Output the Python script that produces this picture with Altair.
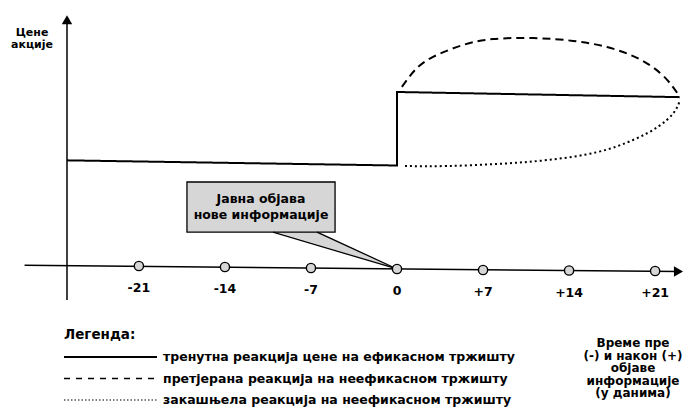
import altair as alt
import pandas as pd

# ---------------- data ----------------
series_names = [
    "тренутна реакција цене на ефикасном тржишту",
    "претјерана реакција на неефикасном тржишту",
    "закашњела реакција на неефикасном тржишту",
]
# days relative to announcement / price level (arbitrary units)
solid_days = [-26.85, 0.0, 0.0, 23.0]
solid_price = [42.5, 40.5, 69.0, 67.0]

dashed_days = [0.4, 1.46, 2.93, 5.37, 7.81, 11.07, 14.32, 17.09, 19.53, 21.4, 22.46, 22.95]
dashed_price = [71.0, 77.5, 82.6, 87.2, 89.5, 89.9, 88.8, 86.4, 82.2, 76.4, 70.9, 67.5]

dotted_days = [0.65, 4.07, 8.14, 12.2, 16.3, 19.2, 21.2, 22.5, 23.0]
dotted_price = [40.3, 40.3, 41.1, 42.6, 45.7, 50.4, 55.4, 60.9, 65.5]

tick_days = [-21, -14, -7, 0, 7, 14, 21]
tick_labels = ["-21", "-14", "-7", "0", "+7", "+14", "+21"]
# the scanned time axis is slightly tilted: its level at each tick
tick_level = [1.55, 1.16, 0.78, 0.39, 0.0, -0.19, -0.39]
axis_days = [-30.3, 22.9]
axis_level = [1.82, -0.58]

y_title_lines = ["Цене", "акције"]
x_title_lines = ["Време пре", "(-) и након (+)", "објаве", "информације", "(у данима)"]
callout_lines = ["Јавна објава", "нове информације"]
legend_title = "Легенда:"

# ---------------- layout / styles ----------------
W, H = 676, 399
X0, X1 = -31.65, 23.35
Y0, Y1 = -53.1, 101.55
FONT = "DejaVu Sans"
GRAY = "#d6d6d6"
LABEL_DROP = 8.7  # tick label distance below the axis, in price units

xs = alt.Scale(domain=[X0, X1], nice=False, zero=False)
ys = alt.Scale(domain=[Y0, Y1], nice=False, zero=False)


def XQ(f):
    return alt.X(f, type="quantitative", scale=xs, axis=None)


def YQ(f):
    return alt.Y(f, type="quantitative", scale=ys, axis=None)


dash_scale = alt.Scale(domain=series_names, range=[[1, 0], [8, 5], [2, 3]])

# main lines
solid_df = pd.DataFrame({"d": solid_days, "p": solid_price, "series": series_names[0]})
solid_df["i"] = range(len(solid_df))
curves_df = pd.concat([
    pd.DataFrame({"d": dashed_days, "p": dashed_price, "series": series_names[1]}),
    pd.DataFrame({"d": dotted_days, "p": dotted_price, "series": series_names[2]}),
], ignore_index=True)
curves_df["i"] = range(len(curves_df))

solid = alt.Chart(solid_df).mark_line(color="black", strokeWidth=2).encode(
    x=XQ("d"), y=YQ("p"), order="i:Q",
    strokeDash=alt.StrokeDash("series:N", scale=dash_scale, legend=None),
)
curves = alt.Chart(curves_df).mark_line(color="black", strokeWidth=2, interpolate="natural").encode(
    x=XQ("d"), y=YQ("p"), order="i:Q", detail="series:N",
    strokeDash=alt.StrokeDash("series:N", scale=dash_scale, legend=None),
)

# axes (drawn by hand)
AXIS_X = -26.85
haxis = alt.Chart(pd.DataFrame({"a": [axis_days[0]], "b": [axis_days[1]],
                                "c": [axis_level[0]], "e": [axis_level[1]]})).mark_rule(
    color="black", strokeWidth=1.5).encode(x=XQ("a"), x2="b", y=YQ("c"), y2="e")
vaxis = alt.Chart(pd.DataFrame({"d": [AXIS_X], "a": [-11.6], "b": [97.0]})).mark_rule(
    color="black", strokeWidth=1.5).encode(x=XQ("d"), y=YQ("a"), y2="b")
arrow_up = alt.Chart(pd.DataFrame({"d": [AXIS_X], "p": [97.0]})).mark_point(
    shape="triangle-up", filled=True, color="black", size=110, opacity=1).encode(x=XQ("d"), y=YQ("p"))
arrow_right = alt.Chart(pd.DataFrame({"d": [axis_days[1]], "p": [axis_level[1]]})).mark_point(
    shape="triangle-right", filled=True, color="black", size=110, opacity=1).encode(x=XQ("d"), y=YQ("p"))

tick_df = pd.DataFrame({"d": tick_days, "label": tick_labels, "p": tick_level})
circles = alt.Chart(tick_df).mark_circle(size=85, fill=GRAY, stroke="black", strokeWidth=1.4, opacity=1).encode(
    x=XQ("d"), y=YQ("p"))
tick_text = alt.Chart(tick_df).transform_calculate(lp=f"datum.p - {LABEL_DROP}").mark_text(
    font=FONT, fontWeight="bold", fontSize=12.5, color="black").encode(
    x=XQ("d"), y=YQ("lp"), text="label:N")

# callout
box = alt.Chart(pd.DataFrame({"a": [-17.09], "b": [-5.04], "c": [14.7], "e": [34.1]})).mark_rect(
    fill=GRAY, stroke="black", strokeWidth=1.3).encode(x=XQ("a"), x2="b", y=YQ("c"), y2="e")
ptr_fill = alt.Chart(pd.DataFrame({"d": [-10.09, -6.51, 0.0], "top": [15.1, 15.1, 0.39], "bot": [15.1, 10.0, 0.39]})).mark_area(
    fill=GRAY, opacity=1).encode(x=XQ("d"), y=YQ("top"), y2="bot")
ptr_lines = alt.Chart(pd.DataFrame({"d": [-10.09, 0.0, -6.51, 0.0], "p": [14.7, 0.39, 14.7, 0.39], "k": [0, 0, 1, 1]})).mark_line(
    color="black", strokeWidth=1.3).encode(x=XQ("d"), y=YQ("p"), detail="k:N")
callout_df = pd.DataFrame({"t": callout_lines, "y": [191 + 16 * k for k in range(len(callout_lines))]})
callout_text = alt.Chart(callout_df).mark_text(font=FONT, fontWeight="bold", fontSize=12.5, color="black").encode(
    x=alt.value(253), y=alt.Y("y:Q", scale=None), text="t:N")

# titles
ytitle_df = pd.DataFrame({"t": y_title_lines, "y": [25 + 12 * k for k in range(len(y_title_lines))]})
ytitle = alt.Chart(ytitle_df).mark_text(font=FONT, fontWeight="bold", fontSize=11, color="black").encode(
    x=alt.value(24), y=alt.Y("y:Q", scale=None), text="t:N")
xtitle_df = pd.DataFrame({"t": x_title_lines, "y": [335 + 12.5 * k for k in range(len(x_title_lines))]})
xtitle = alt.Chart(xtitle_df).mark_text(font=FONT, fontWeight="bold", fontSize=12, color="black").encode(
    x=alt.value(625), y=alt.Y("y:Q", scale=None), text="t:N")

# legend
leg_title = alt.Chart(pd.DataFrame({"t": [legend_title]})).mark_text(
    font=FONT, fontSize=13.5, fontWeight="bold", color="black", align="left").encode(
    x=alt.value(56), y=alt.value(327), text="t:N")
leg_layers = [leg_title]
leg_dash = [[1, 0], [6, 6], [1.5, 2]]
leg_w = [2, 1.5, 1.2]
for k, name in enumerate(series_names):
    yy = 349 + 21.5 * k
    df = pd.DataFrame({"t": [name]})
    leg_layers.append(alt.Chart(df).mark_rule(color="black", strokeWidth=leg_w[k], strokeDash=leg_dash[k]).encode(
        x=alt.value(56), x2=alt.value(149), y=alt.value(yy)))
    leg_layers.append(alt.Chart(df).mark_text(font=FONT, fontWeight="bold", fontSize=12.5, color="black", align="left").encode(
        x=alt.value(155), y=alt.value(yy), text="t:N"))

chart = alt.layer(
    haxis, vaxis, arrow_up, arrow_right,
    solid, curves,
    ptr_fill, box, ptr_lines, callout_text,
    circles, tick_text,
    ytitle, xtitle, *leg_layers,
).properties(width=W, height=H, padding=0, autosize=alt.AutoSizeParams(type="none")).configure_view(stroke=None)

chart.save("out.html", embed_options={"renderer": "svg", "actions": False})
